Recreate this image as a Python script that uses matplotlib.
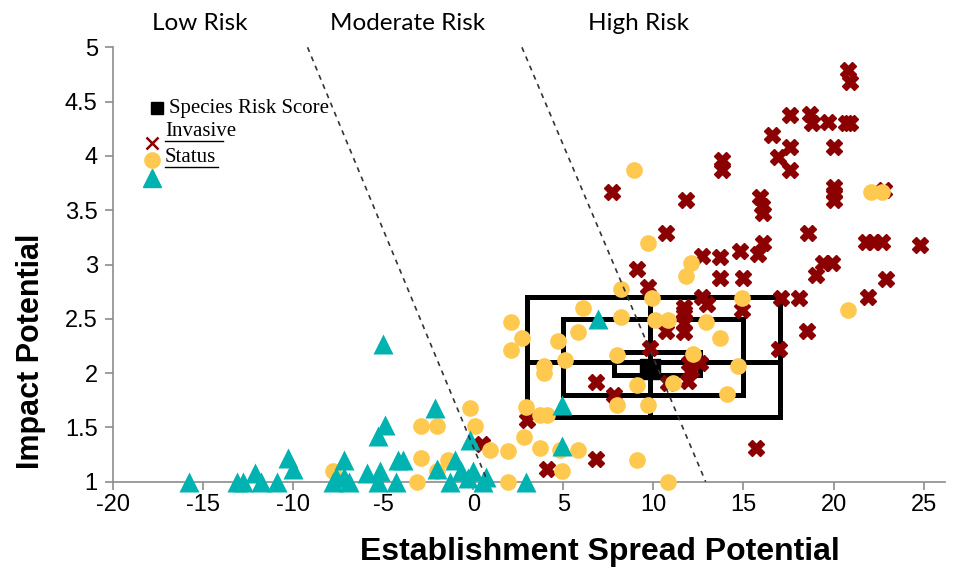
import matplotlib
matplotlib.use("Agg")
import matplotlib.pyplot as plt
from matplotlib.lines import Line2D

plt.rcParams["axes.unicode_minus"] = False

# invasive species (dark red crosses)
invasive_x = [20.8, 20.9, 17.6, 18.7, 18.8, 19.7, 20.7, 20.9, 16.6, 17.6, 16.9, 17.6, 20.0,
              13.8, 13.8, 15.9, 16.0, 16.1, 20.0, 20.0, 20.0, 22.8, 7.7, 11.8, 10.7, 18.6,
              21.8, 22.2, 22.7, 24.8, 16.1, 15.8, 9.1, 12.7, 13.7, 14.8, 13.7, 15.0, 19.4,
              19.9, 19.0, 22.9, 21.9, 9.7, 17.1, 18.1, 12.7, 11.7, 13.0, 18.5, 16.95, 15.7,
              14.9, 11.7, 11.7, 10.7, 11.7, 9.8, 12.0, 12.6, 12.1, 11.9, 10.8, 6.8, 7.8,
              3.0, 6.8, 4.1, 0.5]
invasive_y = [4.79, 4.68, 4.38, 4.39, 4.30, 4.31, 4.30, 4.30, 4.19, 4.08, 3.99, 3.87, 4.08,
              3.96, 3.87, 3.62, 3.54, 3.47, 3.71, 3.66, 3.59, 3.69, 3.67, 3.59, 3.29, 3.29,
              3.21, 3.21, 3.21, 3.18, 3.20, 3.10, 2.96, 3.08, 3.07, 3.12, 2.88, 2.88, 3.01,
              3.01, 2.90, 2.87, 2.70, 2.79, 2.69, 2.69, 2.70, 2.61, 2.64, 2.39, 2.22, 1.31,
              2.58, 2.56, 2.46, 2.39, 2.38, 2.23, 2.09, 2.09, 2.03, 1.93, 1.91, 1.92, 1.80,
              1.57, 1.21, 1.12, 1.35]

# status species (yellow circles)
status_x = [-7.8, -2.9, -2.0, -2.9, -3.1, -2.0, -1.4, -0.17, 0.1, 0.95, 1.95, 1.9, 2.9,
            2.8, 3.7, 4.1, 3.7, 4.8, 5.8, 4.9, 8.0, 9.7, 9.1, 10.8, 9.1, 11.1,
            8.2, 9.9, 14.9, 6.1, 8.2, 10.1, 10.8, 12.9, 5.8, 13.7, 4.7, 2.1, 2.7, 2.1,
            5.1, 3.9, 3.9, 8.0, 12.2, 14.7, 14.1, 8.9, 9.7, 12.1, 11.8, 22.1, 22.7, 20.8]
status_y = [1.10, 1.51, 1.51, 1.22, 1.00, 1.10, 1.20, 1.68, 1.51, 1.29, 1.28, 1.00, 1.69,
            1.41, 1.61, 1.61, 1.31, 1.29, 1.29, 1.10, 1.71, 1.71, 1.89, 1.00, 1.20, 1.91,
            2.77, 2.69, 2.69, 2.60, 2.52, 2.49, 2.49, 2.47, 2.38, 2.32, 2.30, 2.47, 2.32, 2.21,
            2.12, 2.07, 2.00, 2.17, 2.18, 2.07, 1.81, 3.87, 3.20, 3.01, 2.89, 3.67, 3.67, 2.58]

# other species (teal triangles)
other_x = [-15.8, -13.1, -12.8, -12.1, -11.8, -10.9, -10.3, -10.0, -7.8, -7.6, -7.2, -7.2,
           -6.9, -5.9, -5.3, -5.2, -5.0, -5.3, -4.9, -4.3, -4.2, -3.9, -2.1, -2.0, -1.3,
           -1.0, -0.7, -0.3, -0.2, 0.0, 0.55, 0.7, 2.9, 4.9, 4.9, 6.9]
other_y = [1.00, 1.00, 1.00, 1.08, 1.00, 1.00, 1.22, 1.12, 1.00, 1.04, 1.20, 1.04,
           1.00, 1.08, 1.00, 1.10, 2.27, 1.42, 1.52, 1.00, 1.20, 1.20, 1.68, 1.12, 1.00,
           1.20, 1.10, 1.03, 1.38, 1.10, 1.00, 1.04, 1.00, 1.33, 1.71, 2.50]

# species risk score and its nested ranges (x_low, x_high, y_low, y_high)
score_x, score_y = 9.8, 2.04
ranges = [(3.0, 17.0, 1.60, 2.70), (5.0, 15.0, 1.80, 2.50), (7.8, 12.6, 1.98, 2.19)]
cross_x, cross_y = 9.8, 2.10

# risk class boundaries
boundary_1 = ([-9.2, 0.8], [5, 1])
boundary_2 = ([2.7, 12.9], [5, 1])

risk_labels = ["Low Risk", "Moderate Risk", "High Risk"]
x_ticks = [-20, -15, -10, -5, 0, 5, 10, 15, 20, 25]
y_ticks = [1, 1.5, 2, 2.5, 3, 3.5, 4, 4.5, 5]

RED = "#8B0000"
YELLOW = "#FFC94F"
TEAL = "#00B2B0"
SANS = ["Liberation Sans", "DejaVu Sans"]

fig = plt.figure(figsize=(9.61, 5.81), dpi=100)
ax = fig.add_axes([0.1176, 0.1709, 0.866, 0.7477])

for x0, x1, y0, y1 in ranges:
    ax.plot([x0, x1, x1, x0, x0], [y0, y0, y1, y1, y0], color="black", lw=3.6, zorder=1,
            solid_joinstyle="miter")
outer = ranges[0]
ax.plot([outer[0], outer[1]], [cross_y, cross_y], color="black", lw=3.6, zorder=1)
ax.plot([cross_x, cross_x], [outer[2], outer[3]], color="black", lw=3.6, zorder=1)
ax.plot([score_x], [score_y], marker="s", ms=14, color="black", ls="none", zorder=1)

ax.plot(invasive_x, invasive_y, ls="none", marker="X", ms=11, color=RED, mec=RED,
        zorder=2, clip_on=False)
ax.plot(status_x, status_y, ls="none", marker="o", ms=12, color=YELLOW, mec="none",
        zorder=3, clip_on=False)
ax.plot(other_x, other_y, ls="none", marker="^", ms=15, color=TEAL, mec="none",
        zorder=4, clip_on=False)

for bx, by in (boundary_1, boundary_2):
    ax.plot(bx, by, color="#333333", lw=1.2, dashes=(3, 3), zorder=5)

ax.set_xlim(-20, 26.2)
ax.set_ylim(1, 5)
ax.set_xticks(x_ticks)
ax.set_yticks(y_ticks)
ax.set_yticklabels([f"{v:g}" for v in y_ticks])
for side in ("top", "right"):
    ax.spines[side].set_visible(False)
for side in ("left", "bottom"):
    ax.spines[side].set_color("#8c8c8c")
    ax.spines[side].set_linewidth(1.2)
ax.tick_params(colors="#8c8c8c", length=6, width=1.2, labelcolor="black", labelsize=17, pad=5)
ax.tick_params(axis="x", pad=3)
for lab in ax.get_xticklabels() + ax.get_yticklabels():
    lab.set_family(SANS)

ax.set_xlabel("Establishment Spread Potential", fontsize=23, fontweight="bold", family=SANS)
ax.xaxis.set_label_coords(0.585, -0.128)
ax.set_ylabel("Impact Potential", fontsize=22, fontweight="bold", family=SANS)
ax.yaxis.set_label_coords(-0.08, 0.30)

for label, px in zip(risk_labels, [200, 408, 638]):
    fig.text(px / 961, 1 - 24 / 581, label, ha="center", va="center", fontsize=17.5,
             family=["Lato", "DejaVu Sans"])


# legend drawn by hand, like the original
def fpos(px, py):
    return px / 961, 1 - py / 581


serif = ["Liberation Serif", "DejaVu Serif"]
fig.add_artist(Line2D(*zip(fpos(157, 108)), marker="s", ms=9, color="black", ls="none"))
fig.text(*fpos(169, 109), "Species Risk Score", fontsize=15, family=serif, va="center")
fig.text(*fpos(165, 131), "Invasive", fontsize=15, family=serif, va="center")
fig.add_artist(Line2D(*zip(fpos(165, 141), fpos(223, 141)), color="black", lw=1))
fig.add_artist(Line2D(*zip(fpos(152, 143)), marker="x", ms=9, mew=1.8, color=RED, ls="none"))
fig.add_artist(Line2D(*zip(fpos(152, 160)), marker="o", ms=11, color=YELLOW, ls="none"))
fig.text(*fpos(165, 157), "Status", fontsize=15, family=serif, va="center")
fig.add_artist(Line2D(*zip(fpos(165, 167), fpos(218, 167)), color="black", lw=1))
fig.add_artist(Line2D(*zip(fpos(152, 178)), marker="^", ms=13, color=TEAL, ls="none"))

fig.savefig("out.png", dpi=100)
